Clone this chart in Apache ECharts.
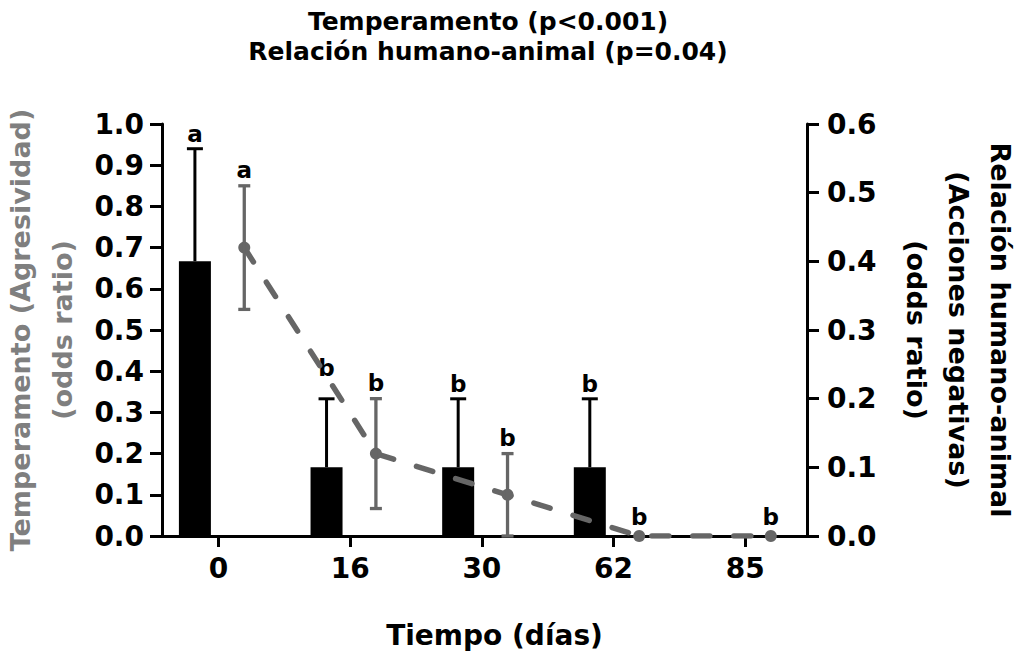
<!DOCTYPE html>
<html>
<head>
<meta charset="utf-8">
<script src="https://cdn.jsdelivr.net/npm/echarts@6/dist/echarts.min.js"></script>
<style>html,body{margin:0;padding:0;background:#fff}#c{width:1019px;height:651px}</style>
</head>
<body>
<div id="c"></div>
<script>
// ---- data ----
const days = ['0', '16', '30', '62', '85'];
const temperOR = [0.667, 0.167, 0.167, 0.167, 0];
const temperUpper = [0.94, 0.333, 0.333, 0.333, 0];
const temperLetters = ['a', 'b', 'b', 'b', ''];
const relOR = [0.42, 0.12, 0.06, 0, 0];
const relLower = [0.33, 0.04, 0, 0, 0];
const relUpper = [0.51, 0.20, 0.12, 0, 0];
const relLetters = ['a', 'b', 'b', 'b', 'b'];
const leftTicks = ['0.0','0.1','0.2','0.3','0.4','0.5','0.6','0.7','0.8','0.9','1.0'];

// ---- layout / style ----
const FONT = '"DejaVu Sans", sans-serif';
const BAR_OFF = -0.18, PT_OFF = 0.195;
const GRAY = '#666666';
const letterLiftBar = {1: 16};

function errRender(color, capHalf, lw, bothCaps, letters, lift, gap) {
  return function (params, api) {
    const i = api.value(3);
    const x = api.value(0), lo = api.value(1), hi = api.value(2);
    const pLo = api.coord([x, lo]), pHi = api.coord([x, hi]);
    const ch = [];
    const ls = {stroke: color, lineWidth: lw};
    if (hi > lo) {
      ch.push({type: 'line', shape: {x1: pLo[0], y1: pLo[1], x2: pHi[0], y2: pHi[1]}, style: ls});
      ch.push({type: 'line', shape: {x1: pHi[0] - capHalf, y1: pHi[1], x2: pHi[0] + capHalf, y2: pHi[1]}, style: ls});
      if (bothCaps) ch.push({type: 'line', shape: {x1: pLo[0] - capHalf, y1: pLo[1], x2: pLo[0] + capHalf, y2: pLo[1]}, style: ls});
    }
    if (letters[i]) {
      const g = hi > lo ? gap : gap + 4;
      ch.push({type: 'text', style: {text: letters[i], x: pHi[0], y: pHi[1] - g - (lift[i] || 0),
        align: 'center', verticalAlign: 'bottom', font: 'bold 23px ' + FONT, fill: '#000'}});
    }
    return {type: 'group', children: ch};
  };
}

const barData = temperOR.map((v, i) => [i + BAR_OFF, v]);
const barErr = temperOR.map((v, i) => [i + BAR_OFF, v, temperUpper[i], i]);
const lineData = relOR.map((v, i) => [i + PT_OFF, v]);
const ptErr = relOR.map((v, i) => [i + PT_OFF, relLower[i], relUpper[i], i]);

const chart = echarts.init(document.getElementById('c'), null, {renderer: 'svg'});
chart.setOption({
  animation: false,
  backgroundColor: '#fff',
  textStyle: {fontFamily: FONT},
  graphic: [{
    type: 'text', x: 488, y: 6,
    style: {text: 'Temperamento (p<0.001)\nRelación humano-animal (p=0.04)', align: 'center',
      font: 'bold 25px ' + FONT, lineHeight: 30, fill: '#000'}
  }],
  grid: {left: 162, right: 212, top: 124, bottom: 115, containLabel: false, outerBoundsMode: 'none'},
  xAxis: {
    type: 'value', min: -0.43, max: 4.47,
    name: 'Tiempo (días)', nameLocation: 'middle', nameGap: 85,
    nameTextStyle: {fontFamily: FONT, fontWeight: 'bold', fontSize: 28, color: '#000', padding: [0, 0, 0, 20]},
    axisLine: {show: true, onZero: false, lineStyle: {color: '#000', width: 3}},
    axisTick: {show: true, customValues: [0, 1, 2, 3, 4], length: 11, lineStyle: {color: '#000', width: 3}},
    axisLabel: {customValues: [0, 1, 2, 3, 4], formatter: v => days[Math.round(v)], margin: 18,
      fontFamily: FONT, fontWeight: 'bold', fontSize: 28, color: '#000'},
    splitLine: {show: false}
  },
  yAxis: [{
    type: 'value', min: 0, max: 1, interval: 0.1, position: 'left',
    name: 'Temperamento (Agresividad)\n(odds ratio)', nameLocation: 'middle', nameGap: 69,
    nameTextStyle: {fontFamily: FONT, fontWeight: 'bold', fontSize: 27, color: '#7f7f7f', lineHeight: 42},
    axisLine: {show: true, onZero: false, lineStyle: {color: '#000', width: 3}},
    axisTick: {show: true, length: 12, lineStyle: {color: '#000', width: 3}},
    axisLabel: {formatter: v => leftTicks[Math.round(v * 10)], margin: 18,
      fontFamily: FONT, fontWeight: 'bold', fontSize: 28, color: '#000'},
    splitLine: {show: false}
  }, {
    type: 'value', min: 0, max: 0.6, interval: 0.1, position: 'right',
    name: 'Relación humano-animal\n(Acciones negativas)\n(odds ratio)', nameLocation: 'middle', nameGap: 88, nameRotate: -90,
    nameTextStyle: {fontFamily: FONT, fontWeight: 'bold', fontSize: 27, color: '#000', lineHeight: 42},
    axisLine: {show: true, onZero: false, lineStyle: {color: '#000', width: 3}},
    axisTick: {show: true, length: 12, lineStyle: {color: '#000', width: 3}},
    axisLabel: {formatter: v => v.toFixed(1), margin: 20,
      fontFamily: FONT, fontWeight: 'bold', fontSize: 28, color: '#000'},
    splitLine: {show: false}
  }],
  series: [{
    type: 'bar', xAxisIndex: 0, yAxisIndex: 0, data: barData, barWidth: 32,
    itemStyle: {color: '#000'}, z: 2
  }, {
    type: 'custom', xAxisIndex: 0, yAxisIndex: 0, data: barErr,
    encode: {x: 0, y: [1, 2]}, renderItem: errRender('#000', 8, 3, false, temperLetters, letterLiftBar, 3), z: 3
  }, {
    type: 'line', xAxisIndex: 0, yAxisIndex: 1, data: lineData,
    symbol: 'circle', symbolSize: 12, showAllSymbol: true,
    itemStyle: {color: GRAY}, lineStyle: {color: GRAY, width: 5.5, type: [17, 24], cap: 'round'}, z: 4
  }, {
    type: 'custom', xAxisIndex: 0, yAxisIndex: 1, data: ptErr,
    encode: {x: 0, y: [1, 2]}, renderItem: errRender(GRAY, 6, 3.3, true, relLetters, {}, 4), z: 5
  }]
});
</script>
</body>
</html>
